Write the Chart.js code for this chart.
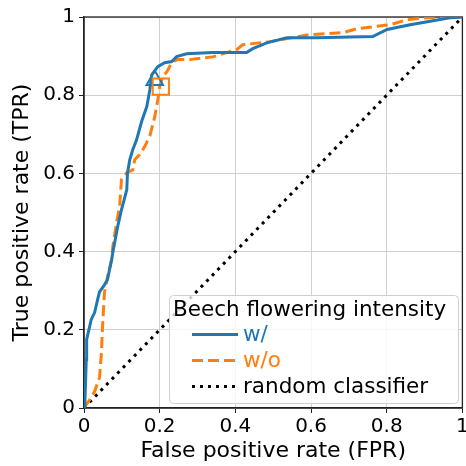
<!DOCTYPE html>
<html>
<head>
<meta charset="utf-8">
<script src="https://cdn.jsdelivr.net/npm/chart.js@4/dist/chart.umd.min.js"></script>
<style>
  html, body { margin: 0; padding: 0; background: #fff; }
  #wrap { width: 466px; height: 466px; }
</style>
</head>
<body>
<div id="wrap"><canvas id="roc" width="466" height="466"></canvas></div>
<script>
// ROC curves, values

const tickValues = [0, 0.2, 0.4, 0.6, 0.8, 1];
const tickLabels = ['0', '0.2', '0.4', '0.6', '0.8', '1'];

const withFpr = [0, 0.002, 0.006, 0.007, 0.019, 0.028, 0.036, 0.041, 0.054, 0.062, 0.073, 0.076, 0.089, 0.099, 0.113, 0.115, 0.121, 0.129, 0.139, 0.152, 0.166, 0.174, 0.179, 0.195, 0.213, 0.232, 0.245, 0.271, 0.340, 0.430, 0.446, 0.483, 0.536, 0.615, 0.763, 0.801, 0.862, 0.896, 0.967, 1];
const withTpr = [0, 0.003, 0.124, 0.175, 0.226, 0.244, 0.277, 0.297, 0.315, 0.328, 0.379, 0.397, 0.464, 0.507, 0.558, 0.602, 0.635, 0.661, 0.686, 0.732, 0.771, 0.814, 0.852, 0.873, 0.883, 0.886, 0.899, 0.906, 0.909, 0.909, 0.919, 0.934, 0.947, 0.947, 0.950, 0.968, 0.980, 0.986, 0.998, 1];

const withoutFpr = [0, 0.015, 0.028, 0.041, 0.046, 0.049, 0.054, 0.062, 0.073, 0.076, 0.086, 0.094, 0.099, 0.113, 0.129, 0.134, 0.147, 0.160, 0.174, 0.187, 0.195, 0.200, 0.208, 0.219, 0.232, 0.245, 0.279, 0.340, 0.377, 0.403, 0.419, 0.491, 0.597, 0.684, 0.721, 0.808, 0.853, 0.906, 0.995, 1];
const withoutTpr = [0, 0.021, 0.042, 0.078, 0.141, 0.208, 0.295, 0.336, 0.379, 0.412, 0.474, 0.515, 0.584, 0.602, 0.609, 0.635, 0.648, 0.668, 0.696, 0.745, 0.788, 0.822, 0.847, 0.860, 0.883, 0.891, 0.891, 0.898, 0.909, 0.916, 0.929, 0.937, 0.955, 0.960, 0.970, 0.980, 0.993, 0.998, 1, 1];

const randomFpr = [0, 1];
const randomTpr = [0, 1];

// operating points marked on each curve
const withPoint = [0.187, 0.838];
const withoutPoint = [0.203, 0.822];

const legendTitle = 'Beech flowering intensity';
const seriesNames = ['w/', 'w/o', 'random classifier'];

const BLUE = '#1f77b4';
const ORANGE = '#ff7f0e';
const FONT = "'DejaVu Sans', sans-serif";

function toPoints(xs, ys) {
  return xs.map((x, i) => ({x: x, y: ys[i]}));
}

// legend drawn by hand so the text takes the line colour, as in the figure
const boxLegend = {
  id: 'boxLegend',
  afterDraw(chart) {
    const ctx = chart.ctx;
    const items = chart.data.datasets
      .filter(d => d.legendName)
      .sort((a, b) => seriesNames.indexOf(a.legendName) - seriesNames.indexOf(b.legendName));
    const x0 = 169, y0 = 295, w = 289, h = 108;
    ctx.save();
    ctx.fillStyle = 'rgba(255,255,255,0.8)';
    ctx.strokeStyle = '#d0d0d0';
    ctx.lineWidth = 1;
    ctx.beginPath();
    ctx.roundRect(x0 + 0.5, y0 + 0.5, w, h, 4);
    ctx.fill();
    ctx.stroke();

    ctx.font = '21.5px ' + FONT;
    ctx.textBaseline = 'middle';
    ctx.fillStyle = '#000';
    ctx.textAlign = 'left';
    ctx.fillText(legendTitle, x0 + 4, y0 + 15);

    items.forEach((d, i) => {
      const y = y0 + 39.5 + i * 26;
      ctx.strokeStyle = d.borderColor;
      ctx.lineWidth = 3;
      ctx.setLineDash(d.borderDash || []);
      ctx.beginPath();
      ctx.moveTo(x0 + 23, y);
      ctx.lineTo(x0 + 69, y);
      ctx.stroke();
      ctx.setLineDash([]);
      ctx.fillStyle = d.legendColor;
      ctx.fillText(d.legendName, x0 + 74, y + 1);
    });
    ctx.restore();
  }
};

const axisTitleFont = {family: FONT, size: 22};
const tickFont = {family: FONT, size: 20};

new Chart(document.getElementById('roc').getContext('2d'), {
  type: 'scatter',
  data: {
    datasets: [
      {
        data: toPoints(randomFpr, randomTpr),
        showLine: true,
        borderColor: '#000',
        borderWidth: 3,
        borderDash: [3, 5],
        pointRadius: 0,
        legendName: seriesNames[2],
        legendColor: '#000',
        order: 3
      },
      {
        data: toPoints(withoutFpr, withoutTpr),
        showLine: true,
        borderColor: ORANGE,
        borderWidth: 3,
        borderDash: [11, 5],
        pointRadius: 0,
        legendName: seriesNames[1],
        legendColor: ORANGE,
        order: 2
      },
      {
        data: toPoints(withFpr, withTpr),
        showLine: true,
        borderColor: BLUE,
        borderWidth: 3,
        pointRadius: 0,
        legendName: seriesNames[0],
        legendColor: BLUE,
        order: 1
      },
      {
        data: [{x: withoutPoint[0], y: withoutPoint[1]}],
        pointStyle: 'rect',
        pointRadius: 11.5,
        borderColor: ORANGE,
        backgroundColor: 'rgba(0,0,0,0)',
        borderWidth: 2,
        order: 0
      },
      {
        data: [{x: withPoint[0], y: withPoint[1]}],
        pointStyle: 'triangle',
        pointRadius: 9.5,
        borderColor: BLUE,
        backgroundColor: 'rgba(0,0,0,0)',
        borderWidth: 2,
        order: 0
      }
    ]
  },
  options: {
    responsive: false,
    animation: false,
    events: [],
    layout: {autoPadding: false, padding: {top: 17, right: 3.6, left: 0, bottom: 0}},
    plugins: {
      legend: {display: false},
      tooltip: {enabled: false}
    },
    scales: {
      x: {
        type: 'linear',
        min: 0,
        max: 1,
        afterBuildTicks: s => { s.ticks = tickValues.map(v => ({value: v})); },
        afterFit: s => { s.height = 58; s.paddingLeft = 0; s.paddingRight = 0; },
        ticks: {
          callback: (v, i) => tickLabels[i],
          color: '#000',
          font: tickFont,
          maxRotation: 0,
          padding: 2
        },
        grid: {color: '#d0d0d0', lineWidth: 1, tickLength: 5, tickColor: '#222'},
        border: {color: '#222', width: 1.3},
        title: {display: true, text: 'False positive rate (FPR)', color: '#000', font: axisTitleFont, padding: {bottom: 2}}
      },
      y: {
        type: 'linear',
        min: 0,
        max: 1,
        afterBuildTicks: s => { s.ticks = tickValues.map(v => ({value: v})); },
        afterFit: s => { s.width = 84; s.paddingTop = 0; s.paddingBottom = 0; },
        ticks: {
          callback: (v, i) => tickLabels[i],
          color: '#000',
          font: tickFont,
          padding: 4
        },
        grid: {color: '#d0d0d0', lineWidth: 1, tickLength: 5, tickColor: '#222'},
        border: {color: '#222', width: 1.3},
        title: {display: true, text: 'True positive rate (TPR)', color: '#000', font: axisTitleFont, padding: {top: 9}}
      }
    }
  },
  plugins: [boxLegend, {
    // closing spines on top and right, like the matplotlib frame
    id: 'frame',
    beforeDatasetsDraw(chart) {
      const a = chart.chartArea, ctx = chart.ctx;
      ctx.save();
      ctx.strokeStyle = '#222';
      ctx.lineWidth = 1.3;
      ctx.strokeRect(a.left, a.top, a.right - a.left, a.bottom - a.top);
      ctx.restore();
    }
  }]
});
</script>
</body>
</html>
